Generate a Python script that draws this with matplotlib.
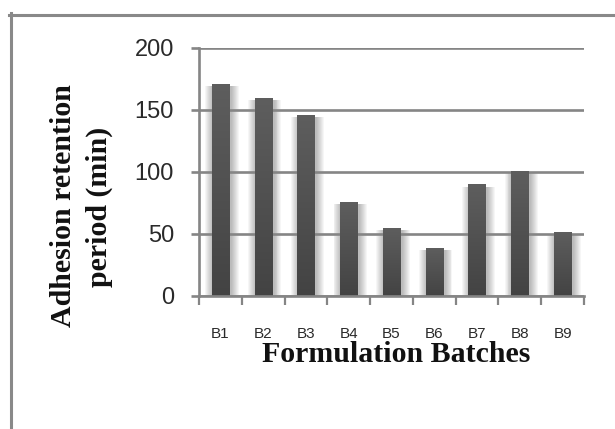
import matplotlib
matplotlib.use('Agg')
import matplotlib.pyplot as plt
import numpy as np
from matplotlib.lines import Line2D
from matplotlib.colors import LinearSegmentedColormap

batches = ['B1', 'B2', 'B3', 'B4', 'B5', 'B6', 'B7', 'B8', 'B9']
retention = [171, 160, 146, 76, 55, 39, 90, 101, 52]
y_ticks = [0, 50, 100, 150, 200]

W, H = 615, 429
fig = plt.figure(figsize=(W / 100, H / 100), dpi=100)
fig.patch.set_facecolor('white')

# axes box in pixels: x 199..584, y 48..296 (from top)
ax = fig.add_axes([199 / W, 1 - 296 / H, (584 - 199) / W, (296 - 48) / H])

grey = '#858585'
x = np.arange(len(batches))

# soft shadow around each bar
for k in range(8):
    ax.bar(x + 0.035, np.array(retention) - 2, width=0.42 + 0.045 * (k + 1),
           color='black', alpha=0.035, linewidth=0, zorder=0.3)

bars = ax.bar(x, retention, width=0.4, color='#4e4e4e', linewidth=0, zorder=2)

# vertical shading on the bars
cmap = LinearSegmentedColormap.from_list('barshade', ['#434343', '#5e5e5e'])
grad = np.linspace(0, 1, 256).reshape(-1, 1)
for b in bars:
    x0, w, h = b.get_x(), b.get_width(), b.get_height()
    im = ax.imshow(grad, extent=[x0, x0 + w, 0, h], origin='lower',
                   cmap=cmap, aspect='auto', zorder=2.5)
    im.set_clip_path(b)

ax.set_xlim(-0.5, len(batches) - 0.5)
ax.set_ylim(0, 200)
ax.set_aspect('auto')

ax.set_yticks(y_ticks)
ax.set_yticklabels([str(v) for v in y_ticks])
ax.set_xticks(x)
ax.set_xticklabels(batches)
ax.set_xticks(np.arange(-0.5, len(batches)), minor=True)

ax.set_axisbelow(True)
ax.yaxis.grid(True, color=grey, linewidth=1.9)
ax.xaxis.grid(False)

for s in ['top', 'right']:
    ax.spines[s].set_visible(False)
for s in ['left', 'bottom']:
    ax.spines[s].set_color(grey)
    ax.spines[s].set_linewidth(1.9)

ax.tick_params(axis='y', length=6, width=1.9, color=grey, pad=12,
               labelsize=17, labelcolor='#2a2a2a')
ax.tick_params(axis='x', which='major', length=0, pad=22,
               labelsize=11, labelcolor='#2a2a2a')
ax.tick_params(axis='x', which='minor', length=6.5, width=1.6, color=grey)
for lab in ax.get_yticklabels():
    lab.set_family(['Liberation Sans Narrow', 'Liberation Sans'])
for lab in ax.get_xticklabels():
    lab.set_family('Liberation Sans')

serif = dict(family='Liberation Serif', weight='bold', fontsize=21.5, color='#111111')
fig.text(396 / W, 1 - 362 / H, 'Formulation Batches', ha='center', va='baseline', **serif)
fig.text(71 / W, 1 - 206 / H, 'Adhesion retention', rotation=90, rotation_mode='anchor',
         ha='center', va='baseline', **serif)
fig.text(107 / W, 1 - 207 / H, 'period (min)', rotation=90, rotation_mode='anchor',
         ha='center', va='baseline', **serif)

# outer frame, left and top edges only
fc = '#898989'
fig.add_artist(Line2D([10.5 / W, 10.5 / W], [0, 1 - 13 / H], color=fc, linewidth=2.2,
                      transform=fig.transFigure))
fig.add_artist(Line2D([9 / W, 1], [1 - 14.5 / H, 1 - 14.5 / H], color=fc, linewidth=2.2,
                      transform=fig.transFigure))

fig.savefig('out.png', dpi=100)
